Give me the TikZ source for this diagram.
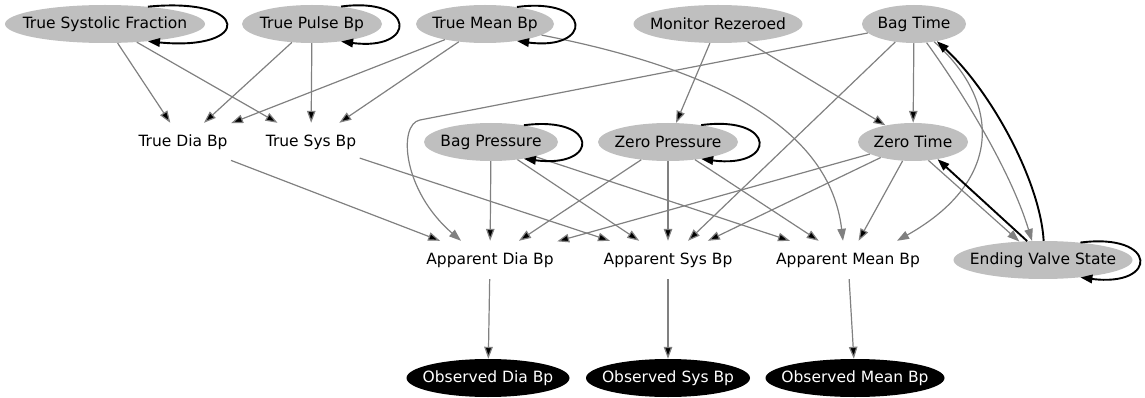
\documentclass[tikz,border=0pt]{standalone}
\usepackage{fontspec}
\setmainfont{DejaVu Sans}
\usetikzlibrary{shapes.geometric,arrows.meta}
\tikzset{
  hidden/.style={ellipse, fill=gray!50, minimum height=38pt, inner xsep=-30pt, inner ysep=0pt},
  seen/.style={ellipse, fill=black, text=white, minimum height=38pt, inner xsep=-30pt, inner ysep=0pt},
  derived/.style={minimum height=38pt},
  dep/.style={draw=gray, line width=1.2pt, -{Triangle[length=12pt,width=8.5pt]}},
  lag/.style={draw=black, line width=1.9pt, -{Triangle[length=12pt,width=8.5pt]}}
}
\begin{document}
\begin{tikzpicture}[x=1pt,y=-1pt,font=\fontsize{15.5}{18}\selectfont]
        \useasboundingbox (0,0) rectangle (1145,398);
        % top row
        \node[hidden, minimum width=200pt] (tsf) at (105,24) {True Systolic Fraction};
        \node[hidden, minimum width=140pt] (tpb) at (312,24) {True Pulse Bp};
        \node[hidden, minimum width=138pt] (tmb) at (485,24) {True Mean Bp};
        \node[hidden, minimum width=169pt] (mr) at (718,24) {Monitor Rezeroed};
        \node[hidden, minimum width=104pt] (bt) at (914,24) {Bag Time};
        % second row
        \node[derived] (tdb) at (183,142) {True Dia Bp};
        \node[derived] (tsb) at (311,142) {True Sys Bp};
        \node[hidden, minimum width=134pt] (bp) at (491,142) {Bag Pressure};
        \node[hidden, minimum width=140pt] (zp) at (668,142) {Zero Pressure};
        \node[hidden, minimum width=110pt] (zt) at (913,142) {Zero Time};
        % third row
        \node[derived] (adb) at (490,260) {Apparent Dia Bp};
        \node[derived] (asb) at (668,260) {Apparent Sys Bp};
        \node[derived] (amb) at (848,260) {Apparent Mean Bp};
        \node[hidden, minimum width=179pt] (evs) at (1043,260) {Ending Valve State};
        % observed
        \node[seen, minimum width=163pt] (odb) at (488,378) {Observed Dia Bp};
        \node[seen, minimum width=164pt] (osb) at (668,378) {Observed Sys Bp};
        \node[seen, minimum width=179pt] (omb) at (855,378) {Observed Mean Bp};
        \coordinate (btbend) at (420,120);

        \draw[dep] (tsf) edge (tdb) edge (tsb);
        \draw[dep] (tpb) edge (tdb) edge (tsb);
        \draw[dep] (tmb) edge (tdb) edge (tsb);
        \draw[dep] (tmb) .. controls (720,70) and (830,130) .. ([xshift=-5pt]amb.north);
        \draw[dep] (mr) edge (zp) edge (zt);
        \draw[dep] (bt) edge (asb) edge (zt);
        \draw[dep] (bt) -- (btbend) .. controls +(-22,4) and (402,190) .. ([xshift=-29pt]adb.north);
        \draw[dep] (bt) .. controls (1000,100) and (1005,180) .. ([xshift=49pt]amb.north);
        \draw[dep] (bt.-56) .. controls (968,100) and (1012,175) .. (evs.120);
        \draw[dep] (tdb) edge (adb);
        \draw[dep] (tsb) edge (asb);
        \draw[dep] (bp) edge (adb) edge (asb) edge (amb);
        \draw[dep] (zp) edge (adb) edge (asb) edge (amb);
        \draw[dep] (zt) edge (adb) edge (asb) edge (amb);
        \draw[dep] (zt.-50) -- (evs.142);
        \draw[dep] (adb) edge (odb);
        \draw[dep] (asb) edge (osb);
        \draw[dep] (amb) edge (omb);

        % self loops and back links
        \draw[lag] (tsf.22) .. controls +(104,-10) and +(104,10) .. (tsf.-22);
        \draw[lag] (tpb.31) .. controls +(76,-10) and +(76,10) .. (tpb.-31);
        \draw[lag] (tmb.28) .. controls +(76,-10) and +(76,10) .. (tmb.-28);
        \draw[lag] (bp.27) .. controls +(76,-10) and +(76,10) .. (bp.-27);
        \draw[lag] (zp.27) .. controls +(76,-10) and +(76,10) .. (zp.-27);
        \draw[lag] (evs.25) .. controls +(78,-10) and +(78,10) .. (evs.-25);
        \draw[lag] (evs.88) .. controls (1040,180) and (990,90) .. (bt.-37);
        \draw[lag] (evs.130) -- (zt.-35);
    \end{tikzpicture}
\end{document}
